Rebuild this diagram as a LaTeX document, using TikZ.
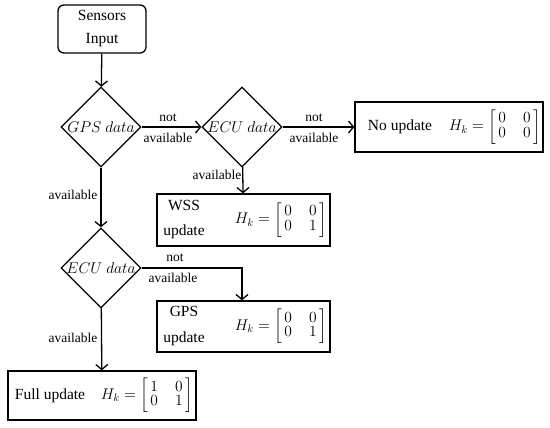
\RequirePackage{fix-cm}
\documentclass[tikz,border=0pt]{standalone}
\usepackage{amsmath}
\usepackage{fontspec}
\setmainfont{Liberation Serif}
\usetikzlibrary{shapes.geometric,arrows.meta}
\newcommand{\Hmat}[4]{$H_k=\left[\renewcommand{\arraystretch}{0.78}\begin{array}{@{\,}c@{\hspace{17pt}}c@{\,}}#1&#2\\#3&#4\end{array}\right]$}
\begin{document}
\begin{tikzpicture}[x=1pt,y=-1pt,
  lab/.style={font=\fontsize{13.5}{15}\selectfont, inner sep=1pt},
  txt/.style={font=\fontsize{15.5}{19}\selectfont, inner sep=0pt},
  boxnode/.style={draw, line width=1.3pt, inner sep=0pt},
  dia/.style={diamond, draw, line width=1.3pt, minimum width=80pt, minimum height=80pt, inner sep=0pt, font=\fontsize{15.5}{19}\selectfont},
  arr/.style={-{Straight Barb[length=5pt,width=12pt]}, line width=1.3pt}]
\useasboundingbox (0,0) rectangle (550,428);

% nodes
\node[boxnode, rounded corners=6pt, minimum width=88pt, minimum height=48pt, align=center,
      font=\fontsize{15.5}{23}\selectfont] (sens) at (102,29) {Sensors\\Input};
\node[dia] (gps) at (101,127) {\makebox[0pt]{$GPS\ data$}};
\node[dia] (ecua) at (242,127) {\makebox[0pt]{$ECU\ data$}};
\node[dia] (ecub) at (101,268) {\makebox[0pt]{$ECU\ data$}};

\node[boxnode, minimum width=188pt, minimum height=50pt] (nobox) at (449,127) {};
\node[txt] (notxt) at (400,127) {No update};
\node[txt, anchor=east] (nomat) at (541,127) {\Hmat{0}{0}{0}{0}};

\node[boxnode, minimum width=173pt, minimum height=52pt] (wss) at (243.5,220) {};
\node[txt, align=center, font=\fontsize{15.5}{25}\selectfont] (wsstxt) at (184,220) {WSS\\update};
\node[txt, anchor=east] (wssmat) at (327,220) {\Hmat{0}{0}{0}{1}};

\node[boxnode, minimum width=173pt, minimum height=51pt] (gpsu) at (243.5,326.5) {};
\node[txt, align=center, font=\fontsize{15.5}{26}\selectfont] (gpsutxt) at (184,326.5) {GPS\\update};
\node[txt, anchor=east] (gpsumat) at (327,326.5) {\Hmat{0}{0}{0}{1}};

\node[boxnode, minimum width=188pt, minimum height=49pt] (full) at (102,395.5) {};
\node[txt] (fulltxt) at (50,395.5) {Full update};
\node[txt, anchor=east] (fullmat) at (193,395.5) {\Hmat{1}{0}{0}{1}};

\coordinate (bend) at (242,268);

% connectors
\draw[arr] (sens) -- (gps);
\draw[arr] (gps) -- (ecua);
\draw[arr] (ecua) -- (nobox);
\draw[arr] (ecua) -- (wss);
\draw[arr] (gps) -- (ecub);
\draw[arr] (ecub.east) -- (bend) -- (gpsu.north -| bend);
\draw[arr] (ecub) -- (full);

% labels
\node[lab] (l1) at (168,118) {not};
\node[lab] (l2) at (168,138) {available};
\node[lab] (l3) at (314,118) {not};
\node[lab] (l4) at (314,138) {available};
\node[lab] (l5) at (217,175) {available};
\node[lab] (l6) at (73,195) {available};
\node[lab] (l7) at (175,258) {not};
\node[lab] (l8) at (173,278) {available};
\node[lab] (l9) at (73,338) {available};
\end{tikzpicture}
\end{document}
